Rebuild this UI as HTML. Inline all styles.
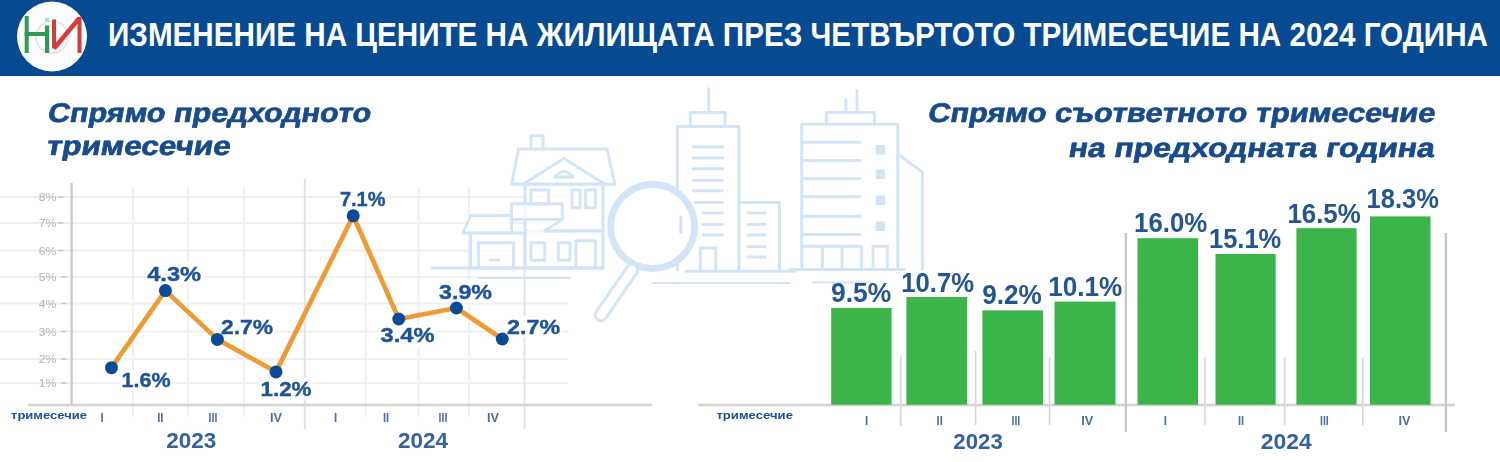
<!DOCTYPE html>
<html><head><meta charset="utf-8">
<style>
html,body{margin:0;padding:0;background:#fff;}
body{width:1500px;height:462px;overflow:hidden;position:relative;font-family:"Liberation Sans",sans-serif;}
svg{position:absolute;left:0;top:0;filter:blur(0.5px);}
</style></head><body>
<svg width="1500" height="462" viewBox="0 0 1500 462" font-family="Liberation Sans, sans-serif">
<!-- header -->
<rect x="0" y="0" width="1500" height="76" fill="#064b91"/>
<circle cx="52" cy="36.5" r="35" fill="#fdfdfd"/>
<g id="logo">
  <circle cx="52" cy="37" r="16" fill="none" stroke="#d8d8d8" stroke-width="1.2"/>
  <rect x="24.7" y="16" width="4" height="37" fill="#2f9a55"/>
  <rect x="45" y="25.5" width="4.2" height="27.5" fill="#2f9a55"/>
  <rect x="24.7" y="32" width="24" height="4" fill="#2f9a55"/>
  <rect x="45" y="18" width="4.2" height="3.5" fill="#a8dccd"/>
  <rect x="52" y="19.5" width="4" height="29" fill="#d83b3b"/>
  <rect x="77.5" y="17" width="4" height="36" fill="#d83b3b"/>
  <path d="M54 48.5 L79.5 18" stroke="#d83b3b" stroke-width="4.5" fill="none"/>
</g>
<text x="108" y="45.8" font-size="33" font-weight="bold" fill="#ffffff" textLength="1380" lengthAdjust="spacingAndGlyphs">ИЗМЕНЕНИЕ НА ЦЕНИТЕ НА ЖИЛИЩАТА ПРЕЗ ЧЕТВЪРТОТО ТРИМЕСЕЧИЕ НА 2024 ГОДИНА</text>

<!-- grid -->
  <g stroke="#f0f0f0" stroke-width="2">
    <line x1="0" y1="197" x2="568" y2="197"/>
    <line x1="0" y1="223" x2="568" y2="223"/>
    <line x1="0" y1="250.5" x2="568" y2="250.5"/>
    <line x1="0" y1="277" x2="568" y2="277"/>
    <line x1="0" y1="303.5" x2="568" y2="303.5"/>
    <line x1="0" y1="331.5" x2="568" y2="331.5"/>
    <line x1="0" y1="359" x2="568" y2="359"/>
    <line x1="0" y1="383" x2="568" y2="383"/>
    <line x1="133" y1="187" x2="133" y2="417"/>
    <line x1="188" y1="187" x2="188" y2="417"/>
    <line x1="244" y1="187" x2="244" y2="417"/>
    <line x1="365.6" y1="242" x2="365.6" y2="417"/>
    <line x1="418.6" y1="187" x2="418.6" y2="417"/>
    <line x1="469" y1="187" x2="469" y2="417"/>
  </g>
  <g stroke="#e2e2e2" stroke-width="2">
    <line x1="524.5" y1="187" x2="524.5" y2="429"/>
    <line x1="304.8" y1="179" x2="304.8" y2="429"/>
  </g>
<!-- illustration -->
<g id="illus" stroke="#d4e4f7" stroke-width="2.9" fill="none" stroke-linecap="round" stroke-linejoin="round">
  <!-- house -->
  <g fill="#ffffff" fill-opacity="0.7">
  <path d="M531 149 V135.6 H543 V149"/>
  <path d="M518.5 149 H607 L614.9 184.3 H511.6 Z"/>
  <rect x="525" y="184.3" width="78" height="46.7"/>
  <rect x="511.6" y="203.8" width="50.7" height="15.6"/>
  <path d="M470.7 215.5 H511.6 V233 H462.9 Z"/>
  <rect x="470.7" y="233" width="54.3" height="35"/>
  <path d="M562.3 219.4 L544.7 231 H603 V268 H525 V231"/>
  </g>
  <path d="M523 184.3 L564 158.5 L605 184.3"/>
  <path d="M555 177 Q564 166 573 177 Z"/>
  <rect x="531" y="190" width="17.6" height="14"/>
  <rect x="572" y="190" width="8" height="17.7"/>
  <rect x="585.6" y="190" width="9.8" height="17.7"/>
  <path d="M478.5 268 V242.8 H513.5 V268"/>
  <path d="M490 260 H499"/>
  <rect x="531" y="242.8" width="13.7" height="17.5"/>
  <rect x="558.4" y="242.8" width="11.6" height="17.5"/>
  <path d="M576 268 V240.8 H595.4 V268"/>
  <path d="M431.7 268 H603"/>
  <path d="M478.5 277.9 H570" stroke-width="2"/>
  <!-- tall building -->
  <path d="M708.7 88.7 V112.5"/>
  <path d="M690.3 126.5 V112.5 H725 V126.5"/>
  <path d="M677.3 270 V126.5 H739 V270"/>
  <path d="M693 147 H722.8 M693 158 H722.8 M693 168.7 H722.8 M693 180.4 H722.3 M693 190.8 H722.3 M695 202.5 H722.3 M703 212.9 H722.3 M703 224.5 H722.3 M703 235 H722.3"/>
  <path d="M700.3 270 V248 H715.8 V270"/>
  <path d="M739 202.5 H779.5 V270"/>
  <path d="M748.3 212.9 H765.2 M748.3 224.5 H765.2 M748.3 235 H765.2 M748.3 246.6 H765.2 M748.3 257 H765.2"/>
  <path d="M686 271.3 H795"/>
  <path d="M652 283 H790" stroke-width="2.2"/>
  <!-- right building -->
  <path d="M845.8 99.5 V112.4 M857 90.4 V112.4"/>
  <path d="M826.3 124 V112.4 H874.4 V124"/>
  <path d="M801.7 269.5 V124.1 H897.7 V269.5"/>
  <path d="M801.7 142.3 H860 M801.7 160.5 H860 M801.7 178.6 H860 M801.7 196.8 H860 M801.7 216.3 H860 M801.7 234.5 H860 M801.7 246.2 H860"/>
    <path d="M822.4 246.2 V269 M842 246.2 V269 M861.4 246.2 V269"/>
  <path d="M873 269 V246.2 H887.3 V269"/>
  <path d="M897.7 154 L922.4 172.1 V269.5"/>
  <path d="M790 269.5 H904"/>
  <path d="M813 282.5 H868" stroke-width="2"/>
  <g fill="#d4e4f7" stroke="none">
    <rect x="875.6" y="145" width="9.5" height="9.5"/>
    <rect x="875.6" y="169.5" width="9.5" height="9.5"/>
    <rect x="875.6" y="195.6" width="9.5" height="9.5"/>
    <rect x="875.6" y="221.5" width="9.5" height="9.5"/>
  </g>
  <!-- magnifier -->
  <circle cx="652.6" cy="226.5" r="42" stroke-width="6.8" fill="#ffffff"/>
  <path d="M680.8 217 V232.6" stroke-width="3"/>
  <path d="M632 270 L601 315" stroke-width="14.5"/>
  <path d="M632 270 L601 315" stroke="#ffffff" stroke-width="8.5"/>
</g>


<!-- subtitles -->
<text transform="translate(46.7,121.8) skewX(-10)" x="0" y="0" font-size="27" font-weight="bold" fill="#184b8c" stroke="#184b8c" stroke-width="0.7" lengthAdjust="spacingAndGlyphs" textLength="323.3">Спрямо предходното</text>
<text transform="translate(45.5,155.1) skewX(-10)" x="0" y="0" font-size="27" font-weight="bold" fill="#184b8c" stroke="#184b8c" stroke-width="0.7" lengthAdjust="spacingAndGlyphs" textLength="184">тримесечие</text>
<text transform="translate(927,121.8) skewX(-10)" x="0" y="0" font-size="27" font-weight="bold" fill="#184b8c" stroke="#184b8c" stroke-width="0.7" lengthAdjust="spacingAndGlyphs" textLength="507">Спрямо съответното тримесечие</text>
<text transform="translate(1067.5,156.6) skewX(-10)" x="0" y="0" font-size="27" font-weight="bold" fill="#184b8c" stroke="#184b8c" stroke-width="0.7" lengthAdjust="spacingAndGlyphs" textLength="366">на предходната година</text>

<!-- left chart -->
<g id="lchart">

  <line x1="71.6" y1="183" x2="71.6" y2="405" stroke="#c8c8c8" stroke-width="2.2"/>
  <line x1="28" y1="405" x2="652" y2="405" stroke="#d3d3d3" stroke-width="2.5"/>
  <g font-size="11" fill="#b4b4b4">
    <text x="38.8" y="201.0" textLength="17.6" lengthAdjust="spacingAndGlyphs">8%</text>
    <text x="38.8" y="227.0" textLength="17.6" lengthAdjust="spacingAndGlyphs">7%</text>
    <text x="38.8" y="254.5" textLength="17.6" lengthAdjust="spacingAndGlyphs">6%</text>
    <text x="38.8" y="281.0" textLength="17.6" lengthAdjust="spacingAndGlyphs">5%</text>
    <text x="38.8" y="307.5" textLength="17.6" lengthAdjust="spacingAndGlyphs">4%</text>
    <text x="38.8" y="335.5" textLength="17.6" lengthAdjust="spacingAndGlyphs">3%</text>
    <text x="38.8" y="363.0" textLength="17.6" lengthAdjust="spacingAndGlyphs">2%</text>
    <text x="38.8" y="387.0" textLength="17.6" lengthAdjust="spacingAndGlyphs">1%</text>
  </g>
  <g stroke="#c2c2c2" stroke-width="1.3">
    <line x1="57.8" y1="197" x2="63.5" y2="197"/>
    <line x1="57.8" y1="223" x2="63.5" y2="223"/>
    <line x1="57.8" y1="250.5" x2="63.5" y2="250.5"/>
    <line x1="61" y1="277" x2="66" y2="277"/>
    <line x1="61" y1="303.5" x2="66" y2="303.5"/>
    <line x1="61" y1="331.5" x2="66" y2="331.5"/>
    <line x1="61" y1="359" x2="66" y2="359"/>
    <line x1="61" y1="383" x2="66" y2="383"/>
  </g>
  <g fill="#ffffff">
    <rect x="120.0" y="370.0" width="52.0" height="20.8"/>
    <rect x="145.7" y="261.7" width="57.2" height="23.3"/>
    <rect x="219.6" y="317.0" width="55.2" height="21.0"/>
    <rect x="259.0" y="377.6" width="54.0" height="21.9"/>
    <rect x="338.4" y="187.8" width="48.6" height="22.0"/>
    <rect x="379.0" y="324.5" width="56.9" height="21.5"/>
    <rect x="437.5" y="280.5" width="56.0" height="21.7"/>
    <rect x="505.6" y="316.0" width="56.0" height="21.8"/>
  </g>
  <polyline points="111.5,367.7 165.4,290.6 217.4,339.4 276,371.9 353.2,215.8 398.8,319 456.4,308 502.3,339" fill="none" stroke="#ee9a35" stroke-width="4.7" stroke-linejoin="round"/>
  <g fill="#0b4a96">
    <circle cx="111.5" cy="367.7" r="6.5"/>
    <circle cx="165.4" cy="290.6" r="6.5"/>
    <circle cx="217.4" cy="339.4" r="6.5"/>
    <circle cx="276" cy="371.9" r="6.5"/>
    <circle cx="353.2" cy="215.8" r="6.5"/>
    <circle cx="398.8" cy="319" r="6.5"/>
    <circle cx="456.4" cy="308" r="6.5"/>
    <circle cx="502.3" cy="339" r="6.5"/>
  </g>
  <g font-size="20.5" font-weight="bold" fill="#1d5398" stroke="#1d5398" stroke-width="0.4" lengthAdjust="spacingAndGlyphs">
    <text x="121.5" y="387.2" textLength="49.0" lengthAdjust="spacingAndGlyphs">1.6%</text>
    <text x="147.2" y="281.4" textLength="54.0" lengthAdjust="spacingAndGlyphs">4.3%</text>
    <text x="221.1" y="334.4" textLength="52.0" lengthAdjust="spacingAndGlyphs">2.7%</text>
    <text x="260.5" y="395.9" textLength="51.0" lengthAdjust="spacingAndGlyphs">1.2%</text>
    <text x="339.9" y="206.2" textLength="45.6" lengthAdjust="spacingAndGlyphs">7.1%</text>
    <text x="380.5" y="342.4" textLength="54.0" lengthAdjust="spacingAndGlyphs">3.4%</text>
    <text x="439.0" y="298.6" textLength="53.0" lengthAdjust="spacingAndGlyphs">3.9%</text>
    <text x="507.1" y="334.2" textLength="53.0" lengthAdjust="spacingAndGlyphs">2.7%</text>
  </g>
  <text x="11" y="418.5" font-size="10" font-weight="bold" fill="#1b4f93" textLength="76" lengthAdjust="spacingAndGlyphs">тримесечие</text>
  <g font-size="13.5" font-weight="bold" fill="#4a6f9e">
    <text x="100.4" y="422" textLength="3.2" lengthAdjust="spacingAndGlyphs">I</text>
    <text x="157.2" y="422" textLength="6.2" lengthAdjust="spacingAndGlyphs">II</text>
    <text x="208.6" y="422" textLength="8.8" lengthAdjust="spacingAndGlyphs">III</text>
    <text x="270.0" y="422" textLength="12" lengthAdjust="spacingAndGlyphs">IV</text>
    <text x="334.0" y="422" textLength="3.2" lengthAdjust="spacingAndGlyphs">I</text>
    <text x="382.9" y="422" textLength="6.2" lengthAdjust="spacingAndGlyphs">II</text>
    <text x="438.6" y="422" textLength="8.8" lengthAdjust="spacingAndGlyphs">III</text>
    <text x="487.0" y="422" textLength="12" lengthAdjust="spacingAndGlyphs">IV</text>
  </g>
  <g font-size="22.5" font-weight="bold" fill="#33629c">
    <text x="166.3" y="448" textLength="50" lengthAdjust="spacingAndGlyphs">2023</text>
    <text x="398" y="448.3" textLength="50" lengthAdjust="spacingAndGlyphs">2024</text>
  </g>
</g>


<!-- right chart -->
<g id="rchart">
  <line x1="698" y1="405" x2="1455" y2="405" stroke="#d3d3d3" stroke-width="2.5"/>
  <g stroke="#d6d6d6" stroke-width="1.6">
    <line x1="900.8" y1="356" x2="900.8" y2="426"/>
    <line x1="975.6" y1="351" x2="975.6" y2="425"/>
    <line x1="1049.6" y1="357" x2="1049.6" y2="425"/>
    <line x1="1205" y1="357" x2="1205" y2="425"/>
    <line x1="1284.7" y1="357" x2="1284.7" y2="425"/>
    <line x1="1362.7" y1="357" x2="1362.7" y2="425"/>
  </g>
  <g stroke="#c4c4c4" stroke-width="2.2">
    <line x1="1125.8" y1="233" x2="1125.8" y2="432"/>
    <line x1="1445.9" y1="233" x2="1445.9" y2="432"/>
  </g>
  <g fill="#3bb54a">
    <rect x="831.2" y="308" width="60.4" height="96.7"/>
    <rect x="906.4" y="297" width="60.8" height="107.7"/>
    <rect x="982.4" y="310.4" width="60.6" height="94.3"/>
    <rect x="1054.5" y="301.6" width="61" height="103.1"/>
    <rect x="1137.5" y="238.2" width="60.5" height="166.5"/>
    <rect x="1215.5" y="254" width="60.2" height="150.7"/>
    <rect x="1296.4" y="228.2" width="60.2" height="176.5"/>
    <rect x="1370" y="216.4" width="60.5" height="188.3"/>
  </g>
  <g font-size="27" font-weight="bold" fill="#24568f">
    <text x="831.0" y="302.1" textLength="60.2" lengthAdjust="spacingAndGlyphs">9.5%</text>
    <text x="901.2" y="291.9" textLength="72.8" lengthAdjust="spacingAndGlyphs">10.7%</text>
    <text x="982.2" y="303.9" textLength="59.6" lengthAdjust="spacingAndGlyphs">9.2%</text>
    <text x="1048.2" y="296.1" textLength="74.0" lengthAdjust="spacingAndGlyphs">10.1%</text>
    <text x="1134.0" y="232.1" textLength="73.3" lengthAdjust="spacingAndGlyphs">16.0%</text>
    <text x="1209.0" y="247.7" textLength="72.3" lengthAdjust="spacingAndGlyphs">15.1%</text>
    <text x="1287.4" y="222.7" textLength="73.4" lengthAdjust="spacingAndGlyphs">16.5%</text>
    <text x="1366.6" y="208.3" textLength="72.2" lengthAdjust="spacingAndGlyphs">18.3%</text>
  </g>
  <text x="716.4" y="419" font-size="10" font-weight="bold" fill="#1b4f93" textLength="76.6" lengthAdjust="spacingAndGlyphs">тримесечие</text>
  <g font-size="13.5" font-weight="bold" fill="#4a6f9e">
    <text x="864.9" y="425" textLength="3.2" lengthAdjust="spacingAndGlyphs">I</text>
    <text x="936.6" y="425" textLength="6.2" lengthAdjust="spacingAndGlyphs">II</text>
    <text x="1011.5" y="425" textLength="8.8" lengthAdjust="spacingAndGlyphs">III</text>
    <text x="1081.3" y="425" textLength="12" lengthAdjust="spacingAndGlyphs">IV</text>
    <text x="1163.7" y="425" textLength="3.2" lengthAdjust="spacingAndGlyphs">I</text>
    <text x="1237.9" y="425" textLength="6.2" lengthAdjust="spacingAndGlyphs">II</text>
    <text x="1320.0" y="425" textLength="8.8" lengthAdjust="spacingAndGlyphs">III</text>
    <text x="1398.4" y="425" textLength="12" lengthAdjust="spacingAndGlyphs">IV</text>
  </g>
  <g font-size="22.5" font-weight="bold" fill="#33629c">
    <text x="953.3" y="448.5" textLength="49.5" lengthAdjust="spacingAndGlyphs">2023</text>
    <text x="1260.8" y="448.6" textLength="51" lengthAdjust="spacingAndGlyphs">2024</text>
  </g>
</g>

</svg>
</body></html>
